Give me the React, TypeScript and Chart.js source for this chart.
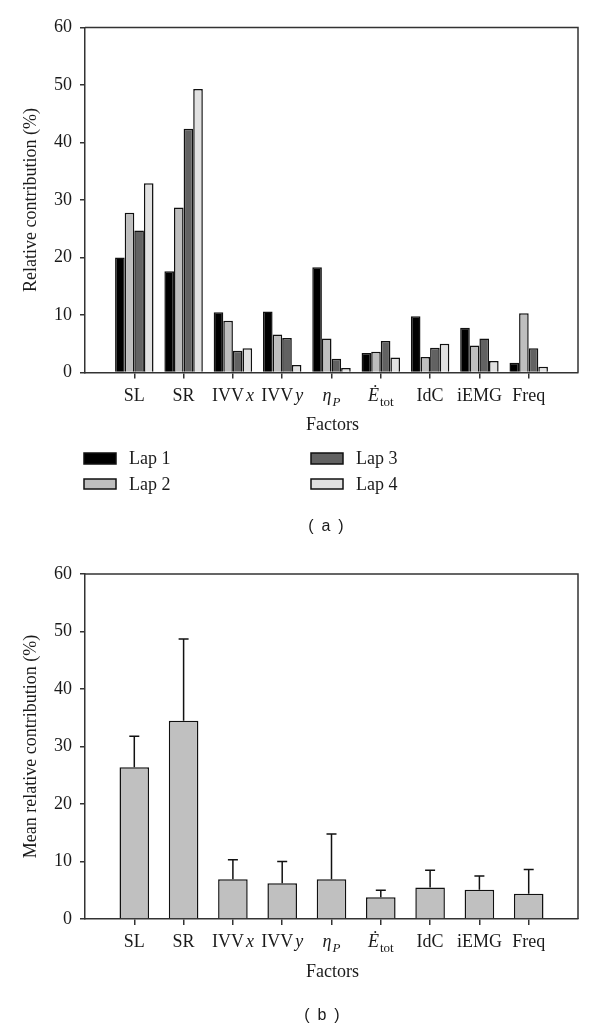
import React, { useEffect, useRef } from 'react';
import { Chart, registerables } from 'chart.js';

Chart.register(...registerables);

// ---------- data ----------
const categories = ['SL', 'SR', 'IVVx', 'IVVy', 'ηP', 'Ėtot', 'IdC', 'iEMG', 'Freq'];
const lapNames = ['Lap 1', 'Lap 2', 'Lap 3', 'Lap 4'];
const lap1 = [20.0, 17.6, 10.5, 10.6, 18.3, 3.4, 9.8, 7.8, 1.7];
const lap2 = [27.8, 28.7, 9.0, 6.6, 5.9, 3.6, 2.7, 4.7, 10.3];
const lap3 = [24.7, 42.4, 3.8, 6.0, 2.4, 5.5, 4.3, 5.9, 4.2];
const lap4 = [32.9, 49.3, 4.2, 1.3, 0.8, 2.6, 5.0, 2.0, 1.0];
const meanContribution = [26.4, 34.5, 6.9, 6.2, 6.9, 3.8, 5.5, 5.1, 4.4];
const sdContribution = [5.4, 14.2, 3.4, 3.8, 7.9, 1.2, 3.0, 2.4, 4.2];
const yTicks = [0, 10, 20, 30, 40, 50, 60];
const xAxisTitle = 'Factors';
const yTitleTop = 'Relative contribution (%)';
const yTitleBottom = 'Mean relative contribution (%)';

// ---------- styles ----------
const SERIF = '"Liberation Serif", "Times New Roman", serif';
const SANS = '"Liberation Sans", Arial, sans-serif';
const TEXT = '#1a1a1a';
const AXIS = '#333333';
const lapColors = ['#000000', '#bebebe', '#626262', '#e1e1e1'];
const meanColor = '#c0c0c0';
const FS = 18;

type Seg = { t: string; italic?: boolean; sub?: boolean; gap?: number };
const LABEL_PARTS: Record<string, Seg[]> = {
  IVVx: [{ t: 'IVV' }, { t: 'x', italic: true, gap: 2 }],
  IVVy: [{ t: 'IVV' }, { t: 'y', italic: true, gap: 2 }],
  'ηP': [{ t: 'η', italic: true }, { t: 'P', italic: true, sub: true, gap: 1 }],
  'Ėtot': [{ t: 'Ė', italic: true }, { t: 'tot', sub: true, gap: 1 }],
};

function segFont(s: Seg) {
  const size = s.sub ? Math.round(FS * 0.72) : FS;
  return `${s.italic ? 'italic ' : ''}${size}px ${SERIF}`;
}

function drawRichLabel(ctx: CanvasRenderingContext2D, label: string, cx: number, baseline: number) {
  const segs = LABEL_PARTS[label] || [{ t: label }];
  let total = 0;
  for (const s of segs) {
    ctx.font = segFont(s);
    total += (s.gap || 0) + ctx.measureText(s.t).width;
  }
  let x = cx - total / 2;
  ctx.textAlign = 'left';
  ctx.textBaseline = 'alphabetic';
  for (const s of segs) {
    ctx.font = segFont(s);
    x += s.gap || 0;
    ctx.fillText(s.t, x, baseline + (s.sub ? 5 : 0));
    x += ctx.measureText(s.t).width;
  }
}

function drawFrameAndLabels(chart: any) {
  const ctx: CanvasRenderingContext2D = chart.ctx;
  const { left, right, top, bottom } = chart.chartArea;
  const xs = chart.scales.x;
  ctx.save();
  // box (top and right)
  ctx.strokeStyle = AXIS;
  ctx.lineWidth = 1.5;
  ctx.beginPath();
  ctx.moveTo(left, top);
  ctx.lineTo(right, top);
  ctx.lineTo(right, bottom);
  ctx.stroke();
  // category labels
  ctx.fillStyle = TEXT;
  categories.forEach((c, i) => {
    drawRichLabel(ctx, c, xs.getPixelForValue(i + 1), bottom + 28);
  });
  // axis title
  ctx.font = `${FS}px ${SERIF}`;
  ctx.textAlign = 'center';
  ctx.textBaseline = 'alphabetic';
  ctx.fillText(xAxisTitle, (left + right) / 2 + 1, bottom + 57.5);
  ctx.restore();
}

function drawCaption(ctx: CanvasRenderingContext2D, letter: string, cx: number, cy: number) {
  ctx.save();
  ctx.fillStyle = TEXT;
  ctx.font = `16px ${SANS}`;
  ctx.textAlign = 'center';
  ctx.textBaseline = 'middle';
  ctx.fillText('(', cx - 15, cy);
  ctx.fillText(letter, cx, cy);
  ctx.fillText(')', cx + 15, cy);
  ctx.restore();
}

const topPlugin = {
  id: 'topDecor',
  afterDraw(chart: any) {
    drawFrameAndLabels(chart);
    const ctx: CanvasRenderingContext2D = chart.ctx;
    ctx.save();
    const spots = [
      { x: 84, y: 453, h: 11, tx: 129, ty: 463.5 },
      { x: 84, y: 479, h: 10, tx: 129, ty: 489.5 },
      { x: 311, y: 453, h: 11, tx: 356, ty: 463.5 },
      { x: 311, y: 479, h: 10, tx: 356, ty: 489.5 },
    ];
    chart.data.datasets.forEach((ds: any, k: number) => {
      const s = spots[k];
      ctx.fillStyle = ds.backgroundColor;
      ctx.fillRect(s.x, s.y, 32, s.h);
      ctx.strokeStyle = '#111';
      ctx.lineWidth = 1.5;
      ctx.strokeRect(s.x, s.y, 32, s.h);
      ctx.fillStyle = TEXT;
      ctx.font = `${FS}px ${SERIF}`;
      ctx.textAlign = 'left';
      ctx.textBaseline = 'alphabetic';
      ctx.fillText(ds.label, s.tx, s.ty);
    });
    ctx.restore();
    drawCaption(ctx, 'a', 326, 527);
  },
};

const bottomPlugin = {
  id: 'bottomDecor',
  afterDatasetsDraw(chart: any) {
    const ctx: CanvasRenderingContext2D = chart.ctx;
    const xs = chart.scales.x;
    const ys = chart.scales.y;
    ctx.save();
    ctx.strokeStyle = '#111';
    ctx.lineWidth = 1.5;
    meanContribution.forEach((m, i) => {
      const x = xs.getPixelForValue(i + 1);
      const y0 = ys.getPixelForValue(m);
      const y1 = ys.getPixelForValue(m + sdContribution[i]);
      ctx.beginPath();
      ctx.moveTo(x, y0);
      ctx.lineTo(x, y1);
      ctx.moveTo(x - 5, y1);
      ctx.lineTo(x + 5, y1);
      ctx.stroke();
    });
    ctx.restore();
  },
  afterDraw(chart: any) {
    drawFrameAndLabels(chart);
    drawCaption(chart.ctx, 'b', 322, 471);
  },
};

function makeOptions(canvasH: number, plotTop: number, plotBottom: number, yTitle: string): any {
  return {
    responsive: false,
    animation: false,
    layout: { padding: { top: plotTop, right: 22, left: 0, bottom: 0 } },
    plugins: { legend: { display: false }, tooltip: { enabled: false } },
    scales: {
      x: {
        type: 'linear',
        min: 0,
        max: categories.length + 1,
        offset: false,
        afterBuildTicks: (s: any) => {
          s.ticks = categories.map((_, i) => ({ value: i + 1 }));
        },
        afterFit: (s: any) => {
          s.height = canvasH - plotBottom;
        },
        ticks: { display: false },
        grid: {
          offset: false,
          drawOnChartArea: false,
          drawTicks: true,
          tickLength: 6,
          color: AXIS,
          lineWidth: 1.5,
        },
        border: { display: true, color: AXIS, width: 1.5 },
      },
      y: {
        min: 0,
        max: 60,
        afterBuildTicks: (s: any) => {
          s.ticks = yTicks.map((v) => ({ value: v }));
        },
        afterFit: (s: any) => {
          s.width = 85;
        },
        ticks: { font: { family: SERIF, size: FS }, color: TEXT, padding: 8 },
        grid: { drawOnChartArea: false, drawTicks: true, tickLength: 5, color: AXIS, lineWidth: 1.5 },
        border: { display: true, color: AXIS, width: 1.5 },
        title: {
          display: true,
          text: yTitle,
          font: { family: SERIF, size: FS },
          color: TEXT,
          padding: { top: 20, bottom: 0 },
        },
      },
    },
  };
}

export default function App() {
  const topRef = useRef<HTMLCanvasElement>(null);
  const botRef = useRef<HTMLCanvasElement>(null);

  useEffect(() => {
    const laps = [lap1, lap2, lap3, lap4];
    const topChart = new Chart(topRef.current as HTMLCanvasElement, {
      type: 'bar',
      data: {
        datasets: laps.map((vals, k) => ({
          label: lapNames[k],
          data: vals.map((v, i) => ({ x: i + 1, y: v })),
          backgroundColor: lapColors[k],
          borderColor: '#111',
          borderWidth: 1.5,
          categoryPercentage: 0.78,
          barPercentage: 1,
        })),
      },
      options: makeOptions(545, 27.5, 372.5, yTitleTop),
      plugins: [topPlugin],
    } as any);

    const botChart = new Chart(botRef.current as HTMLCanvasElement, {
      type: 'bar',
      data: {
        datasets: [
          {
            label: 'Mean',
            data: meanContribution.map((v, i) => ({ x: i + 1, y: v })),
            backgroundColor: meanColor,
            borderColor: '#111',
            borderWidth: 1.5,
            categoryPercentage: 0.6,
            barPercentage: 1,
          },
        ],
      },
      options: makeOptions(485, 29, 374, yTitleBottom),
      plugins: [bottomPlugin],
    } as any);

    return () => {
      topChart.destroy();
      botChart.destroy();
    };
  }, []);

  return (
    <div style={{ position: 'absolute', left: 0, top: 0, width: 600, height: 1030, background: '#fff' }}>
      <canvas ref={topRef} width={600} height={545} style={{ position: 'absolute', left: 0, top: 0 }} />
      <canvas ref={botRef} width={600} height={485} style={{ position: 'absolute', left: 0, top: 545 }} />
    </div>
  );
}
